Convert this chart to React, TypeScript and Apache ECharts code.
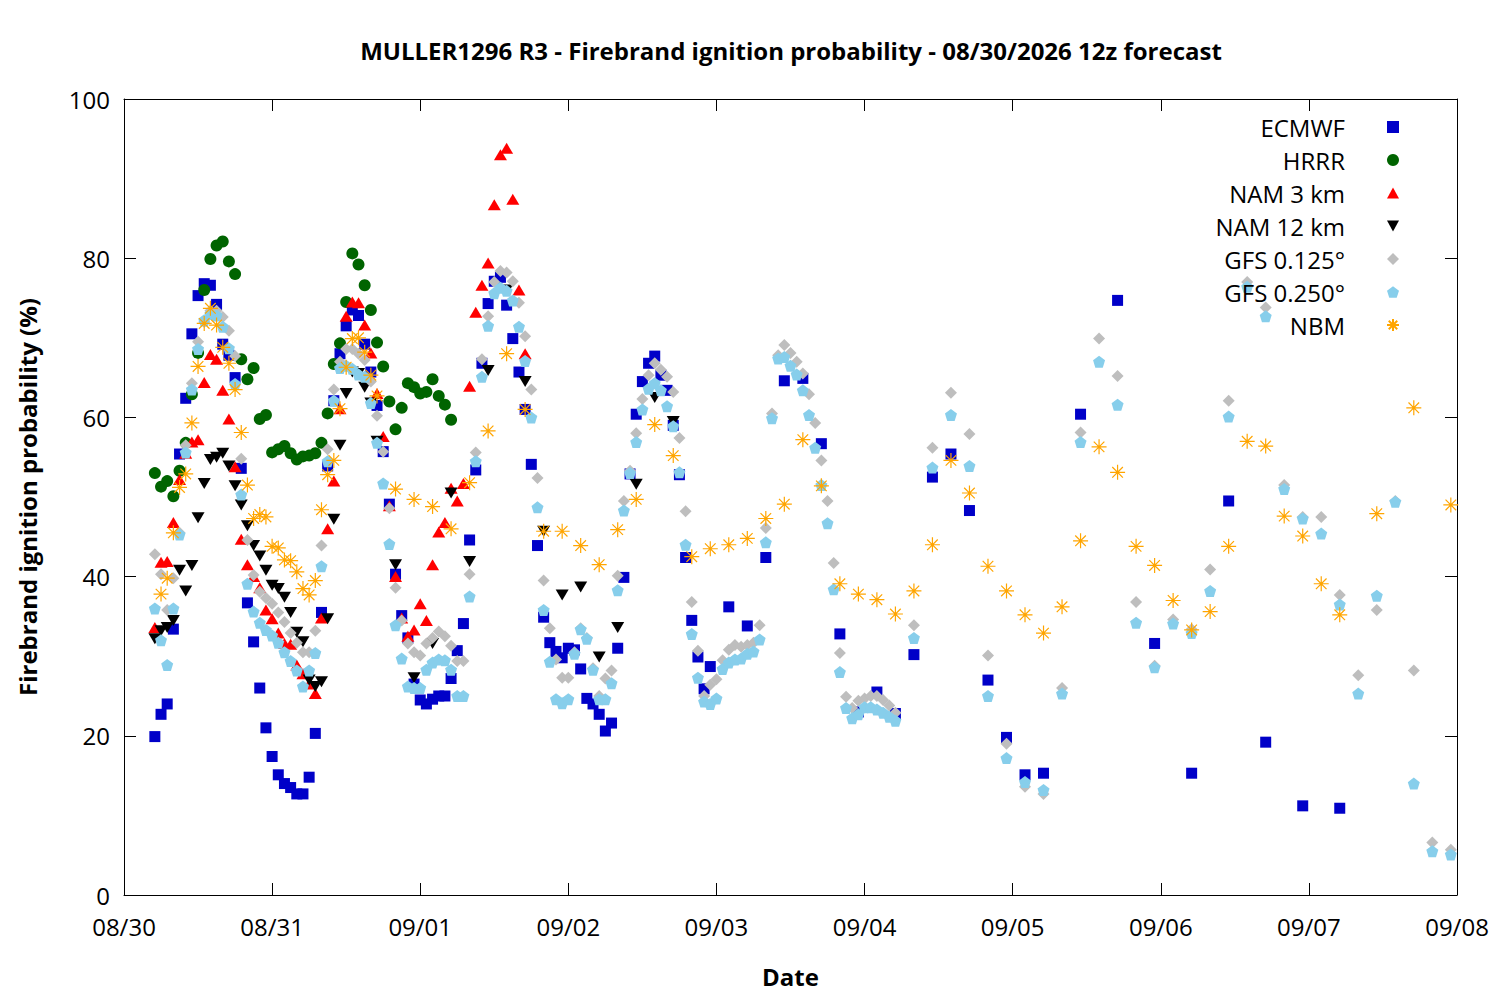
import React, { useEffect, useRef } from "react";
import * as echarts from "echarts";

// hours since 08/30 00:00 local time
const dateLabels = ["08/30", "08/31", "09/01", "09/02", "09/03", "09/04", "09/05", "09/06", "09/07", "09/08"];
const yTicks = [0, 20, 40, 60, 80, 100];

const steps = (from: number, to: number, step: number) => {
  const out: number[] = [];
  for (let h = from; h <= to; h += step) out.push(h);
  return out;
};

const ecmwfHours = [...steps(5, 95, 1), ...steps(98, 149, 3), ...steps(155, 197, 6)];
const ecmwfValues = [
  19.9, 22.7, 24.0, 33.4, 55.4, 62.4, 70.5, 75.3, 76.8, 76.6,
  74.2, 69.2, 67.8, 65.0, 53.6, 36.7, 31.8, 26.0, 21.0, 17.4,
  15.1, 14.0, 13.5, 12.7, 12.7, 14.8, 20.3, 35.5, 53.9, 62.1,
  68.0, 71.5, 73.5, 72.8, 69.2, 65.7, 61.5, 55.7, 49.1, 40.3,
  35.1, 32.3, 26.5, 24.5, 24.0, 24.6, 25.0, 25.0, 27.2, 30.7,
  34.1, 44.6, 53.4, 66.8, 74.3, 77.1, 77.6, 74.1, 69.9, 65.7,
  61.0, 54.1, 43.9, 34.9, 31.7, 30.6, 29.8, 31.0, 30.8, 28.4,
  24.7, 24.0, 22.7, 20.6, 21.6, 31.0, 39.9, 52.9, 60.4, 64.5,
  66.8, 67.7, 65.3, 63.4, 59.0, 52.8, 42.4, 34.5, 29.9, 25.9,
  28.7,
  36.2, 33.8, 42.4, 64.6, 64.9, 56.7, 32.8, 23.0, 25.5, 22.8,
  30.2, 52.5, 55.4, 48.3, 27.0, 19.8, 15.1, 15.3,
  60.4, 74.7, 31.6, 15.3, 49.5, 19.2, 11.2, 10.9,
];

const hrrrHours = steps(5, 53, 1);
const hrrrValues = [
  53.0, 51.3, 52.0, 50.1, 53.3, 56.8, 62.9, 68.1, 76.0, 79.9,
  81.6, 82.1, 79.6, 78.0, 67.3, 64.8, 66.2, 59.8, 60.3, 55.6,
  56.0, 56.4, 55.5, 54.7, 55.1, 55.2, 55.5, 56.8, 60.5, 66.7,
  69.3, 74.5, 80.6, 79.2, 76.6, 73.5, 69.4, 66.4, 62.0, 58.5,
  61.2, 64.3, 63.8, 63.0, 63.2, 64.8, 62.7, 61.6, 59.7,
];

const nam3Hours = steps(5, 65, 1);
const nam3Values = [
  33.6, 41.8, 41.9, 46.8, 52.2, 55.5, 56.9, 57.2, 64.4, 67.9,
  67.3, 63.4, 59.8, 53.8, 44.7, 41.5, 40.0, 38.6, 35.8, 34.7,
  32.9, 31.6, 31.5, 28.9, 27.8, 26.5, 25.3, 34.8, 46.0, 52.0,
  61.1, 72.7, 74.5, 74.4, 71.6, 68.1, 63.0, 57.6, 48.9, 40.0,
  34.8, 32.5, 33.3, 36.6, 34.5, 41.5, 45.6, 46.8, 51.1, 49.5,
  51.7, 63.9, 73.2, 76.6, 79.4, 86.7, 93.0, 93.8, 87.4, 76.0,
  68.0,
];

const nam12Hours = [...steps(5, 41, 1), ...steps(44, 89, 3)];
const nam12Values = [
  32.2, 33.2, 33.6, 34.5, 40.8, 38.2, 41.4, 47.4, 51.7, 54.7,
  55.0, 55.5, 53.9, 51.4, 49.0, 46.4, 43.9, 42.6, 40.8, 38.9,
  38.5, 37.4, 35.5, 33.0, 31.8, 27.0, 26.2, 26.8, 34.7, 47.2,
  56.5, 63.0, 65.7, 65.5, 63.8, 61.8, 57.0,
  41.5, 27.3, 31.6, 50.5, 41.9, 65.9, 76.0, 64.5, 45.7, 37.7,
  38.7, 29.9, 33.6, 51.6, 62.5, 59.5,
];

const gfsHours = [...steps(5, 125, 1), ...steps(128, 215, 3)];
const gfs125Values = [
  42.8, 40.3, 35.8, 39.8, 45.5, 56.5, 64.3, 69.5, 72.0, 73.4,
  73.4, 72.6, 70.9, 67.7, 54.8, 44.6, 40.2, 38.1, 37.3, 36.6,
  35.5, 34.3, 32.9, 31.7, 30.5, 30.5, 33.2, 43.9, 56.0, 63.5,
  67.0, 68.6, 68.6, 68.0, 67.2, 64.5, 60.2, 55.7, 48.6, 38.6,
  34.5, 31.6, 30.5, 30.1, 31.6, 32.3, 33.1, 32.5, 31.3, 29.4,
  29.4, 40.3, 55.6, 67.3, 72.7, 77.0, 78.4, 78.2, 77.1, 74.4,
  70.2, 63.5, 52.4, 39.5, 33.5, 29.6, 27.3, 27.3, 30.5, 33.5,
  32.3, 28.5, 25.0, 27.2, 28.2, 40.1, 49.5, 53.3, 58.0, 62.3,
  65.3, 66.8, 66.0, 65.1, 63.2, 57.4, 48.2, 36.8, 30.7, 25.0,
  26.4, 27.1, 29.5, 30.8, 31.4, 31.2, 31.4, 31.7, 33.9, 46.1,
  60.5, 67.8, 69.1, 68.1, 67.0, 65.5, 62.9, 59.3, 54.6, 49.5,
  41.7, 30.4, 24.9, 23.5, 24.4, 24.7, 25.0, 25.0, 24.5, 23.8,
  22.9,
  33.9, 56.2, 63.1, 57.9, 30.1, 19.0, 13.6, 12.7, 26.0, 58.1,
  69.9, 65.2, 36.8, 28.8, 34.6, 33.4, 40.9, 62.1, 77.0, 73.8,
  51.5, 47.5, 47.5, 37.7, 27.6, 35.8, 49.5, 28.2, 6.6, 5.7,
];
const gfs250Values = [
  36.0, 32.0, 28.9, 36.0, 45.3, 55.6, 63.5, 68.6, 72.2, 73.0,
  72.8, 71.4, 68.7, 64.2, 50.3, 39.1, 35.6, 34.2, 33.3, 32.6,
  31.7, 30.5, 29.4, 28.2, 26.2, 28.2, 30.4, 41.3, 54.5, 62.1,
  66.2, 66.5, 66.1, 65.4, 65.1, 61.8, 56.8, 51.7, 44.1, 33.9,
  29.7, 26.2, 26.0, 26.0, 28.3, 29.2, 29.6, 29.5, 28.3, 25.0,
  25.0, 37.5, 54.5, 65.1, 71.5, 75.6, 76.3, 75.9, 74.7, 71.4,
  67.1, 60.0, 48.7, 35.8, 29.3, 24.6, 24.1, 24.6, 30.3, 33.4,
  32.2, 28.3, 24.6, 24.6, 26.6, 38.3, 48.3, 53.0, 56.9, 61.0,
  63.6, 64.3, 63.4, 61.4, 58.9, 53.1, 44.0, 32.8, 27.3, 24.3,
  24.0, 24.7, 28.4, 29.2, 29.6, 29.7, 30.3, 30.6, 32.1, 44.3,
  59.9, 67.4, 67.6, 66.5, 65.4, 63.4, 60.3, 56.2, 51.5, 46.7,
  38.4, 28.0, 23.5, 22.2, 22.7, 23.6, 23.6, 23.3, 22.9, 22.4,
  21.9,
  32.3, 53.7, 60.3, 53.9, 25.0, 17.2, 14.2, 13.2, 25.3, 56.9,
  67.0, 61.6, 34.2, 28.6, 34.1, 32.9, 38.2, 60.1, 76.4, 72.7,
  51.0, 47.3, 45.4, 36.5, 25.3, 37.6, 49.4, 14.0, 5.5, 5.1,
];

const nbmHours = [...steps(6, 41, 1), ...steps(44, 197, 3), ...steps(203, 215, 6)];
const nbmValues = [
  37.8, 39.8, 45.5, 51.2, 52.9, 59.3, 66.4, 71.8, 73.7, 71.6,
  68.8, 66.8, 63.5, 58.1, 51.5, 47.3, 47.8, 47.5, 43.8, 43.6,
  42.1, 42.0, 40.6, 38.5, 37.7, 39.5, 48.4, 52.8, 54.6, 61.1,
  66.3, 69.9, 70.0, 68.2, 65.3, 62.7,
  51.0, 49.7, 48.8, 46.0, 51.8, 58.3, 68.0, 61.0, 45.7, 45.7,
  43.9, 41.5, 45.9, 49.7, 59.1, 55.2, 42.5, 43.5, 44.0, 44.8,
  47.3, 49.1, 57.2, 51.4, 39.1, 37.8, 37.1, 35.3, 38.2, 44.0,
  54.6, 50.5, 41.3, 38.2, 35.2, 32.9, 36.2, 44.5, 56.3, 53.1,
  43.8, 41.4, 37.0, 33.3, 35.6, 43.8, 57.0, 56.4, 47.6, 45.1,
  39.1, 35.2,
  47.9, 61.2, 49.0,
];

const FONT = "Open Sans";
const SQUARE = "path://M0,0L10,0L10,10L0,10Z";
const UP_TRIANGLE = "path://M5,0L10,9L0,9Z";
const DOWN_TRIANGLE = "path://M0,0L10,0L5,9Z";
const DIAMOND = "path://M5,0L10,5L5,10L0,5Z";
const PENTAGON = "path://M0,-10L9.51,-3.09L5.88,8.09L-5.88,8.09L-9.51,-3.09Z";
const ASTERISK = "path://M0,-10L0,10M-10,0L10,0M-7.07,-7.07L7.07,7.07M-7.07,7.07L7.07,-7.07";

const pairs = (hours: number[], values: number[]) => hours.map((h, i) => [h, values[i]]);

const App = () => {
  const chartRef = useRef<HTMLDivElement>(null);

  useEffect(() => {
    if (!chartRef.current) return;
    const chart = echarts.init(chartRef.current, null, { renderer: "svg" });

    const xBase = {
      type: "value" as const,
      min: 0,
      max: 216,
      interval: 24,
      splitLine: { show: false },
      axisLine: { show: true, onZero: false, lineStyle: { color: "#000", width: 1 } },
      axisTick: { show: true, inside: true, length: 12, lineStyle: { color: "#000" } },
    };
    const yBase = {
      type: "value" as const,
      min: yTicks[0],
      max: yTicks[yTicks.length - 1],
      interval: 20,
      splitLine: { show: false },
      axisLine: { show: true, onZero: false, lineStyle: { color: "#000", width: 1 } },
      axisTick: { show: true, inside: true, length: 12, lineStyle: { color: "#000" } },
    };
    const nameStyle = { fontFamily: FONT, fontSize: 24, fontWeight: "bold" as const, color: "#000" };

    const option: echarts.EChartsOption = {
      animation: false,
      backgroundColor: "#fff",
      title: {
        text: "MULLER1296 R3 - Firebrand ignition probability - 08/30/2026 12z forecast",
        left: 786,
        top: 33,
        textAlign: "center",
        textStyle: { fontFamily: FONT, fontSize: 24, fontWeight: "bold", color: "#000" },
      },
      legend: {
        orient: "vertical",
        right: 95,
        top: 110,
        align: "right",
        itemWidth: 12,
        itemHeight: 12,
        itemGap: 9,
        textStyle: { fontFamily: FONT, fontSize: 24, color: "#000", padding: [0, 37, 0, 0] },
        data: ["ECMWF", "HRRR", "NAM 3 km", "NAM 12 km", "GFS 0.125°", "GFS 0.250°", "NBM"],
      },
      grid: { left: 124, right: 43, top: 99, bottom: 105 },
      xAxis: [
        {
          ...xBase,
          position: "bottom",
          name: "Date",
          nameLocation: "middle",
          nameGap: 69,
          nameTextStyle: nameStyle,
          axisLabel: {
            fontFamily: FONT,
            fontSize: 24,
            color: "#000",
            margin: 19,
            formatter: (v: number) => dateLabels[Math.round(v / 24)] ?? "",
          },
        },
        { ...xBase, position: "top", axisLabel: { show: false } },
      ],
      yAxis: [
        {
          ...yBase,
          position: "left",
          name: "Firebrand ignition probability (%)",
          nameLocation: "middle",
          nameGap: 85,
          nameTextStyle: nameStyle,
          axisLabel: { fontFamily: FONT, fontSize: 24, color: "#000", margin: 14 },
        },
        { ...yBase, position: "right", axisLabel: { show: false } },
      ],
      series: [
        {
          name: "ECMWF",
          type: "scatter",
          symbol: SQUARE,
          symbolSize: 11,
          itemStyle: { color: "#0000c8", opacity: 1 },
          data: pairs(ecmwfHours, ecmwfValues),
        },
        {
          name: "HRRR",
          type: "scatter",
          symbol: "circle",
          symbolSize: 12,
          itemStyle: { color: "#006400", opacity: 1 },
          data: pairs(hrrrHours, hrrrValues),
        },
        {
          name: "NAM 3 km",
          type: "scatter",
          symbol: UP_TRIANGLE,
          symbolSize: [13, 11],
          itemStyle: { color: "#ff0000", opacity: 1 },
          data: pairs(nam3Hours, nam3Values),
        },
        {
          name: "NAM 12 km",
          type: "scatter",
          symbol: DOWN_TRIANGLE,
          symbolSize: [13, 11],
          itemStyle: { color: "#000000", opacity: 1 },
          data: pairs(nam12Hours, nam12Values),
        },
        {
          name: "GFS 0.125°",
          type: "scatter",
          symbol: DIAMOND,
          symbolSize: 12,
          itemStyle: { color: "#bebebe", opacity: 1 },
          data: pairs(gfsHours, gfs125Values),
        },
        {
          name: "GFS 0.250°",
          type: "scatter",
          symbol: PENTAGON,
          symbolSize: 12,
          itemStyle: { color: "#87ceeb", opacity: 1 },
          data: pairs(gfsHours, gfs250Values),
        },
        {
          name: "NBM",
          type: "scatter",
          symbol: ASTERISK,
          symbolSize: 15,
          itemStyle: { color: "#ffa500", borderColor: "#ffa500", borderWidth: 1.2, opacity: 1 },
          data: pairs(nbmHours, nbmValues),
        },
      ],
    };

    chart.setOption(option);
    return () => {
      chart.dispose();
    };
  }, []);

  return (
    <div
      ref={chartRef}
      style={{ position: "fixed", left: 0, top: 0, width: 1500, height: 1000, background: "#fff" }}
    />
  );
};

export default App;
